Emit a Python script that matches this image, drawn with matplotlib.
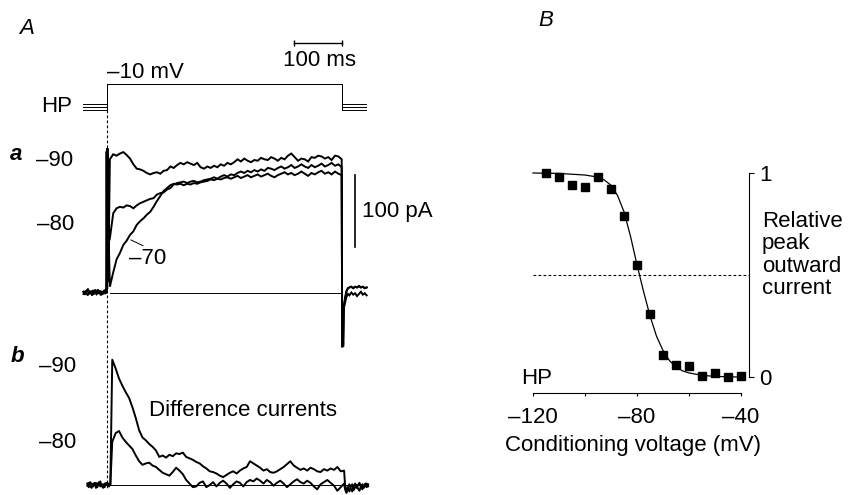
import numpy as np
import matplotlib.pyplot as plt

plt.rcParams['font.family'] = ['Liberation Sans', 'DejaVu Sans']
plt.rcParams['font.size'] = 16

W, H = 850, 495

# ---- panel A: voltage protocol (ms / mV) ----
step_on, step_off = 0, 490
step_mv = -10
hp_mv = [-90, -80, -70]
prot_start, prot_end = -48, 540

# ---- panel A a: currents (pA), one sample every 7 ms from 7 ms ----
cur_90 = [185, 192, 190, 193, 195, 191, 186, 178, 172, 171,
          169, 166, 164, 166, 167, 165, 169, 170, 175, 173,
          177, 180, 178, 181, 179, 177, 180, 174, 172, 175,
          173, 176, 174, 178, 176, 180, 178, 181, 185, 182,
          186, 183, 181, 184, 183, 187, 185, 184, 188, 186,
          183, 187, 185, 190, 193, 188, 183, 186, 185, 182,
          188, 187, 190, 189, 186, 188, 184, 190, 189, 185]
cur_80 = [75, 110, 117, 119, 118, 121, 120, 117, 121, 124,
          126, 128, 130, 131, 136, 138, 139, 143, 145, 150,
          152, 153, 154, 152, 154, 155, 153, 154, 156, 157,
          158, 160, 158, 161, 163, 161, 164, 163, 166, 168,
          166, 169, 167, 170, 168, 171, 169, 173, 172, 170,
          173, 175, 172, 174, 177, 173, 175, 178, 175, 173,
          177, 174, 176, 179, 175, 177, 180, 176, 178, 174]
cur_70 = [8, 28, 46, 55, 66, 72, 80, 85, 94, 99,
          103, 108, 112, 119, 127, 134, 141, 145, 149, 151,
          150, 151, 149, 151, 150, 152, 151, 153, 154, 155,
          157, 156, 158, 157, 159, 160, 158, 160, 162, 159,
          161, 163, 160, 162, 164, 161, 163, 165, 162, 160,
          163, 165, 167, 164, 166, 163, 165, 168, 165, 162,
          166, 164, 167, 169, 165, 167, 164, 168, 165, 163]

pre_t = [-48, -45, -42, -39, -36, -33, -30, -27, -24, -21, -18, -15, -12, -9, -6, -3, -1]
pre_1 = [1, -3, 2, 4, -2, 1, -4, 3, 0, -2, 4, -1, 2, -3, 1, 3, 0]
pre_2 = [-2, 2, -1, -4, 3, 0, 2, -3, 4, 1, -2, 3, -4, 0, 2, -1, 1]

cap_t = [0, 0.6, 1.2, 1.8, 2.4, 3.0, 3.6, 4.2, 4.8]
cap_i = [0, 196, 5, 200, 15, 192, 30, 185, 70]

post_t = [491, 492, 493, 494, 495, 497, 500, 503, 506, 510, 514, 518, 522, 526, 530, 534, 538, 542]
post_1 = [-76, -40, -75, -30, -18, -8, 2, 6, 7, 8, 6, 8, 7, 9, 7, 8, 6, 7]
post_2 = [-70, -50, -72, -25, -20, -14, -6, -2, -4, 0, -3, -1, -5, -2, 1, -3, -1, -4]

# ---- panel A b: difference currents (pA), one sample every 7 ms from 12 ms ----
diff_90 = [174, 162, 148, 138, 129, 121, 108, 93, 76, 66,
           62, 57, 53, 48, 39, 41, 38, 42, 40, 44,
           43, 45, 39, 37, 35, 32, 30, 26, 23, 19,
           18, 16, 13, 11, 14, 17, 19, 16, 20, 23,
           25, 33, 30, 27, 24, 20, 22, 18, 17, 19,
           22, 25, 29, 33, 27, 24, 21, 23, 20, 24,
           22, 19, 18, 22, 20, 23, 21, 25, 19, 20]
diff_80 = [60, 72, 75, 66, 60, 55, 50, 41, 33, 28,
           30, 31, 27, 25, 21, 17, 15, 13, 18, 24,
           20, 15, 7, 2, -3, -2, 3, 5, -3, 0,
           4, -2, 3, 6, 2, -4, 1, 5, 3, -2,
           4, 7, 5, 9, 6, 2, 7, 4, -1, 3,
           6, 2, -3, 1, 5, 8, 4, 2, 6, 3,
           -2, -6, 1, 4, 7, 3, -1, -8, -3, 2]

pre_b_t = [-40, -37, -34, -31, -28, -25, -22, -19, -16, -13, -10, -7, -4, -1, 2, 5, 8]
pre_b1 = [2, -3, 4, 1, -2, 3, -4, 2, 0, 5, -2, 1, -3, 3, -1, 2, 0]
pre_b2 = [-1, 3, -2, -4, 2, 0, 3, -3, 4, -2, 1, -4, 2, 0, 3, -2, 1]

post_b_t = [497, 500, 503, 506, 509, 512, 515, 518, 521, 524, 527, 530, 533, 536, 539, 542, 545]
post_b1 = [0, -8, -3, 1, -5, -9, -2, 2, -4, 0, 3, -2, -6, -1, 2, -3, 1]
post_b2 = [-6, -11, -4, -9, -2, 1, -7, -3, 0, -5, -8, -2, 1, -4, -1, 2, -2]

# ---- panel B: inactivation curve ----
cond_v = [-115, -110, -105, -100, -95, -90, -85, -80, -75, -70, -65, -60, -55, -50, -45, -40]
rel_i = [1.00, 0.98, 0.94, 0.93, 0.98, 0.92, 0.79, 0.55, 0.31, 0.11, 0.06, 0.055, 0.006, 0.02, 0.0, 0.005]
fit_v = [-120, -110, -100, -95, -92.5, -90, -87.5, -85, -82.5, -80, -77.5, -75,
         -72.5, -70, -67.5, -65, -62.5, -60, -55, -50, -45, -40]
fit_rel = [1.0, 0.998, 0.99, 0.98, 0.965, 0.94, 0.89, 0.81, 0.69, 0.55, 0.42, 0.30,
           0.20, 0.13, 0.08, 0.05, 0.03, 0.02, 0.008, 0.003, 0.001, 0.0]


fig = plt.figure(figsize=(W / 100, H / 100), dpi=100)


def px_axes(x0, y0, x1, y1):
    ax = fig.add_axes([x0 / W, 1 - y1 / H, (x1 - x0) / W, (y1 - y0) / H])
    ax.patch.set_visible(False)
    return ax


# time axis shared by all of panel A: step onset at x=106.5 px, 0.48 px per ms
t_px0, px_ms = 106.5, 0.48
px_pA = 0.72
xl = ((80 - t_px0) / px_ms, (372 - t_px0) / px_ms)
k = 'k'

# voltage protocol
ax_v = px_axes(80, 0, 372, 130)
ax_v.set_xlim(*xl)
ax_v.set_ylim(-80 + (107 - 130) / 0.33, -80 + 107 / 0.33)
for v in hp_mv:
    ax_v.plot([prot_start, step_on, step_on, step_off, step_off, prot_end],
              [v, v, step_mv, step_mv, v, v], color=k, lw=0.7)
ax_v.plot([390, 490], [115, 115], color=k, lw=1.0, marker='|', ms=4, mew=1.0)
ax_v.axis('off')

# a: currents
ax_a = px_axes(80, 130, 372, 360)
ax_a.set_xlim(*xl)
ax_a.set_ylim((292.5 - 360) / px_pA, (292.5 - 130) / px_pA)
t_a = 7 * np.arange(1, len(cur_90) + 1)
for pre, cur, post in [(pre_1, cur_90, post_1), (pre_2, cur_80, post_2), (pre_1, cur_70, post_1)]:
    tt = np.concatenate([pre_t, cap_t, t_a[:len(cur)], post_t])
    ii = np.concatenate([pre, cap_i, cur, post])
    ax_a.plot(tt, ii, color=k, lw=1.4, solid_joinstyle='miter')
ax_a.plot([7, 491], [0, 0], color=k, lw=0.7)
ax_a.plot([0, 0], [(292.5 - 110) / px_pA, (292.5 - 490) / px_pA], color=k, lw=0.8,
          ls=(0, (2.5, 2)), clip_on=False)
ax_a.plot([518, 518], [63, 163], color=k, lw=1.2, clip_on=False)
ax_a.plot([51, 76], [73, 65], color=k, lw=0.7)
ax_a.axis('off')

# b: difference currents
ax_b = px_axes(80, 335, 372, 495)
ax_b.set_xlim(*xl)
ax_b.set_ylim((485 - 495) / px_pA, (485 - 335) / px_pA)
t_b = 12 + 7 * np.arange(len(diff_90))
for pre, cur, post in [(pre_b1, diff_90, post_b1), (pre_b2, diff_80, post_b2)]:
    tt = np.concatenate([pre_b_t, t_b[:len(cur)], post_b_t])
    ii = np.concatenate([pre, cur, post])
    ax_b.plot(tt, ii, color=k, lw=1.4, clip_on=False)
ax_b.plot([10, 545], [0, 0], color=k, lw=0.7)
ax_b.axis('off')

# B: relative peak current vs conditioning voltage
ax_B = px_axes(520, 160, 749, 393)
ax_B.set_xlim(-120 + (520 - 533) / 2.6, -120 + (749 - 533) / 2.6)
ax_B.set_ylim((377 - 393) / 204, (377 - 160) / 204)
ax_B.plot(fit_v, fit_rel, color=k, lw=0.9)
ax_B.plot(cond_v, rel_i, ls='none', marker='s', ms=5.3, color=k)
ax_B.hlines(0.5, -120, ax_B.get_xlim()[1], color=k, lw=0.8, ls=(0, (2.5, 2)))
for s in ['left', 'top']:
    ax_B.spines[s].set_visible(False)
ax_B.spines['right'].set_bounds(0, 1)
ax_B.spines['bottom'].set_bounds(-120, -40)
ax_B.spines['right'].set_linewidth(0.8)
ax_B.spines['bottom'].set_linewidth(0.8)
ax_B.yaxis.tick_right()
ax_B.set_yticks([0, 1], ['0', '1'])
ax_B.set_xticks([-120, -100, -80, -60, -40], ['\u2013120', '', '\u201380', '', '\u201340'])
ax_B.tick_params(axis='y', direction='out', length=3.6, width=0.8, pad=4)
ax_B.tick_params(axis='x', direction='out', length=2.3, width=0.8, pad=7.5)

# text layer in pixel units
ax_t = px_axes(0, 0, W, H)
ax_t.set_xlim(0, W)
ax_t.set_ylim(H, 0)
ax_t.axis('off')
txt = dict(ha='center', va='center')
ax_t.text(27, 28, 'A', style='italic', **txt)
ax_t.text(546, 21, 'B', style='italic', **txt)
ax_t.text(320, 61, '100 ms', **txt)
ax_t.text(107, 73, '\u201310 mV', ha='left', va='center')
ax_t.text(57, 107, 'HP', **txt)
ax_t.text(16, 155, 'a', style='italic', fontweight='bold', **txt)
ax_t.text(55, 161, '\u201390', **txt)
ax_t.text(56, 224, '\u201380', **txt)
ax_t.text(148, 258, '\u201370', **txt)
ax_t.text(362, 212, '100 pA', ha='left', va='center')
ax_t.text(17, 356, 'b', style='italic', fontweight='bold', **txt)
ax_t.text(58, 366, '\u201390', **txt)
ax_t.text(58, 443, '\u201380', **txt)
ax_t.text(243, 410, 'Difference currents', **txt)
ax_t.text(537, 379, 'HP', **txt)
ax_t.text(633, 446, 'Conditioning voltage (mV)', **txt)
ax_t.text(762, 211, 'Relative\npeak\noutward\ncurrent', ha='left', va='top', linespacing=1.08)

fig.savefig('out.png', dpi=100)
